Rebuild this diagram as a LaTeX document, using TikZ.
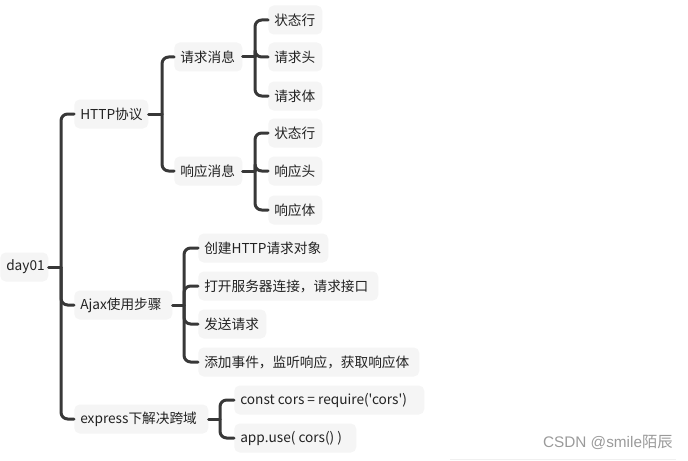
\documentclass[tikz,border=0pt]{standalone}
\usepackage{fontspec}
\newfontfamily\cjk{Noto Sans CJK SC}
\newfontfamily\wmlatin{Liberation Sans}
\definecolor{boxfill}{HTML}{F5F5F5}
\definecolor{linec}{HTML}{383838}
\definecolor{textc}{HTML}{222222}
\definecolor{wmark}{HTML}{9A9A9A}
\newcommand{\bx}[2]{\makebox[#1][l]{#2}}
\tikzset{
  mbox/.style={fill=boxfill, draw=none, rounded corners=4pt, minimum height=21.75pt,
    inner xsep=4.5pt, inner ysep=0pt, anchor=west, text=textc,
    font=\cjk\fontsize{10.25}{12}\selectfont},
  conn/.style={draw=linec, line width=2.25pt, line cap=round},
  branch/.style={conn, rounded corners=5pt}
}
\begin{document}
\begin{tikzpicture}[x=0.75pt,y=-0.75pt]
\useasboundingbox (0,0) rectangle (688,460);
% nodes (box width in px minus 12px padding, times 0.75pt)
\node[mbox] (root) at (0,267) {\bx{27pt}{day01}};
\node[mbox] (http) at (74,114) {\bx{46.5pt}{HTTP协议}};
\node[mbox] (req) at (174,57) {\bx{42pt}{请求消息}};
\node[mbox] (res) at (174,171) {\bx{42pt}{响应消息}};
\node[mbox] (r1) at (268,20) {\bx{31.5pt}{状态行}};
\node[mbox] (r2) at (268,57) {\bx{31.5pt}{请求头}};
\node[mbox] (r3) at (268,96) {\bx{31.5pt}{请求体}};
\node[mbox] (s1) at (268,133) {\bx{31.5pt}{状态行}};
\node[mbox] (s2) at (268,171) {\bx{31.5pt}{响应头}};
\node[mbox] (s3) at (268,210) {\bx{31.5pt}{响应体}};
\node[mbox] (ajax) at (74,305) {\bx{64.5pt}{Ajax使用步骤}};
\node[mbox] (a1) at (198,248) {\bx{88.5pt}{创建HTTP请求对象}};
\node[mbox] (a2) at (198,286) {\bx{126pt}{打开服务器连接，请求接口}};
\node[mbox] (a3) at (198,324) {\bx{42pt}{发送请求}};
\node[mbox] (a4) at (198,362) {\bx{156.75pt}{添加事件，监听响应，获取响应体}};
\node[mbox] (exp) at (74,419) {\bx{91.5pt}{express下解决跨域}};
\node[mbox] (e1) at (234,400) {\bx{133.5pt}{const cors = require('cors')}};
\node[mbox] (e2) at (234,438) {\bx{82.5pt}{app.use( cors() )}};
% vertical line positions
\coordinate (vroot) at (61,0);
\coordinate (vhttp) at (162,0);
\coordinate (vmsg) at (255,0);
\coordinate (vajax) at (184,0);
\coordinate (vexp) at (220,0);
% root
\draw[conn] (root.east) -- (root.east -| vroot);
\foreach \c in {http,ajax,exp} \draw[branch] (root.east -| vroot) |- (\c.west);
% http
\draw[conn] (http.east) -- (http.east -| vhttp);
\foreach \c in {req,res} \draw[branch] (http.east -| vhttp) |- (\c.west);
% req
\draw[conn] (req.east) -- (req.east -| vmsg);
\foreach \c in {r1,r2,r3} \draw[branch] (req.east -| vmsg) |- (\c.west);
% res
\draw[conn] (res.east) -- (res.east -| vmsg);
\foreach \c in {s1,s2,s3} \draw[branch] (res.east -| vmsg) |- (\c.west);
% ajax
\draw[conn] (ajax.east) -- (ajax.east -| vajax);
\foreach \c in {a1,a2,a3,a4} \draw[branch] (ajax.east -| vajax) |- (\c.west);
% express
\draw[conn] (exp.east) -- (exp.east -| vexp);
\foreach \c in {e1,e2} \draw[branch] (exp.east -| vexp) |- (\c.west);
% watermark
\node[anchor=east, text=wmark, inner sep=0pt, font=\fontsize{11.5}{13}\selectfont] (wm) at (673,442) {\wmlatin CSDN @smile\cjk 陌辰};
\draw[draw=black!6, line width=0.75pt] (450,459) -- (676,459);
\end{tikzpicture}
\end{document}
